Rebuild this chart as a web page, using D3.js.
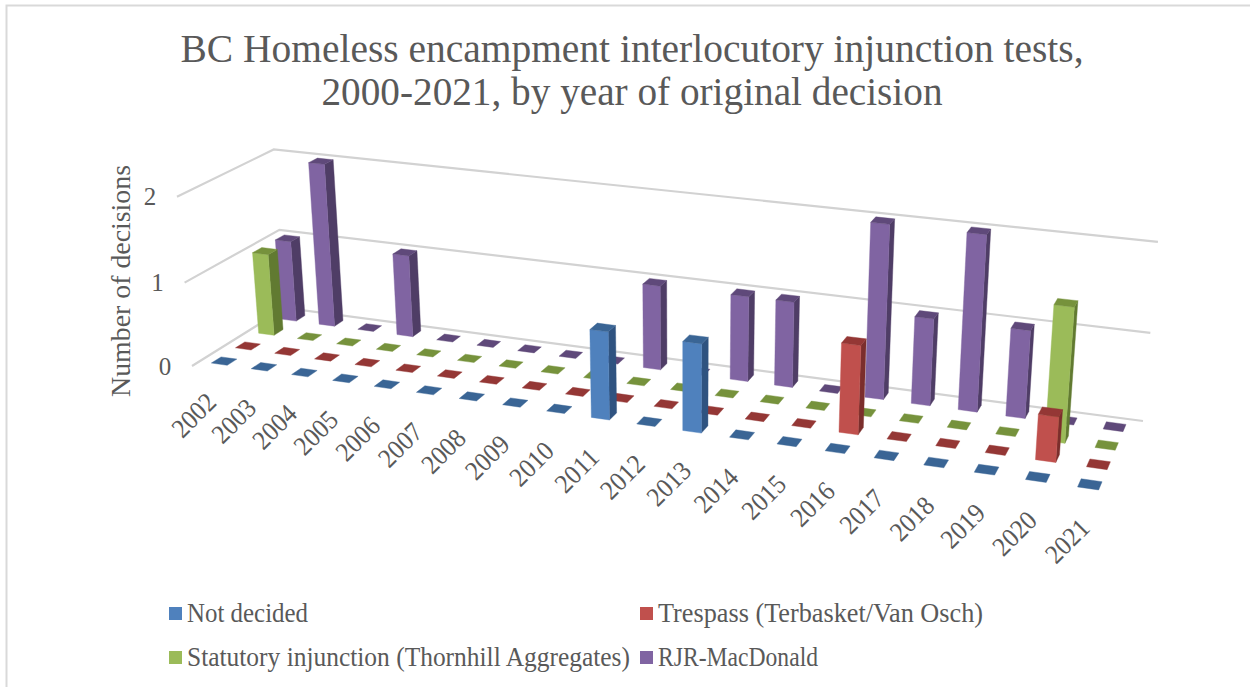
<!DOCTYPE html>
<html>
<head>
<meta charset="utf-8">
<title>BC Homeless encampment interlocutory injunction tests</title>
<script src="https://cdn.jsdelivr.net/npm/d3@7"></script>
<style>
    html, body { margin: 0; padding: 0; background: #fff; }
    svg { display: block; }
    text { font-family: "Liberation Serif", serif; fill: #595959; }
</style>
</head>
<body>
<div id="chart"></div>
<script>
//Decisions per year, one list per series
var years = ["2002", "2003", "2004", "2005", "2006", "2007", "2008", "2009", "2010", "2011",
    "2012", "2013", "2014", "2015", "2016", "2017", "2018", "2019", "2020", "2021"];
var notDecided = [0, 0, 0, 0, 0, 0, 0, 0, 0, 1, 0, 1, 0, 0, 0, 0, 0, 0, 0, 0];
var trespass = [0, 0, 0, 0, 0, 0, 0, 0, 0, 0, 0, 0, 0, 0, 1, 0, 0, 0, 0.5, 0];
var statutory = [1, 0, 0, 0, 0, 0, 0, 0, 0, 0, 0, 0, 0, 0, 0, 0, 0, 0, 1.5, 0];
var rjr = [1, 2, 0, 1, 0, 0, 0, 0, 0, 1, 0, 1, 1, 0, 2, 1, 2, 1, 0, 0];
var seriesNames = ["Not decided", "Trespass (Terbasket/Van Osch)",
    "Statutory injunction (Thornhill Aggregates)", "RJR-MacDonald"];
var seriesValues = [notDecided, trespass, statutory, rjr];
var valueTicks = [0, 1, 2];

var width = 1250, height = 687;
var frontColors = ["#4F81BD", "#C0504D", "#9BBB59", "#8064A2"];
var topColors = ["#3A6595", "#943735", "#76923C", "#5F497A"];
var sideColors = ["#2F5380", "#7B2E2C", "#617A31", "#4F3D66"];

var svg = d3.select("#chart").append("svg")
    .attr("width", width)
    .attr("height", height);

// chart frame, open on the right and at the bottom
svg.append("path")
    .attr("d", "M6.5," + height + "V5.5H" + width)
    .attr("fill", "none")
    .attr("stroke", "#D9D9D9")
    .attr("stroke-width", 2);

var x = d3.scaleBand().domain(years).range([0, 1]);
var z = d3.scaleBand().domain(seriesNames).range([0, 1]);
var y = d3.scaleLinear().domain([0, 2]).range([0, 2]);

// perspective: floor corners on screen (front left, front right, back right, back left)
// plus the point where the verticals meet, far below the chart
var floor = [[192, 366], [1112, 498.5], [1143, 421], [285, 308]];
var vanish = [685, 5918], rise = -0.0148;

var dx1 = floor[1][0] - floor[2][0], dx2 = floor[3][0] - floor[2][0],
    dy1 = floor[1][1] - floor[2][1], dy2 = floor[3][1] - floor[2][1],
    sx = floor[0][0] - floor[1][0] + floor[2][0] - floor[3][0],
    sy = floor[0][1] - floor[1][1] + floor[2][1] - floor[3][1],
    den = dx1 * dy2 - dx2 * dy1,
    g = (sx * dy2 - dx2 * sy) / den,
    h = (dx1 * sy - sx * dy1) / den;

function project(u, v, val) {
    var k = rise * y(val);
    var w = 1 + g * u + h * v + k;
    return [
        (floor[0][0] + (floor[1][0] - floor[0][0] + g * floor[1][0]) * u + (floor[3][0] - floor[0][0] + h * floor[3][0]) * v + k * vanish[0]) / w,
        (floor[0][1] + (floor[1][1] - floor[0][1] + g * floor[1][1]) * u + (floor[3][1] - floor[0][1] + h * floor[3][1]) * v + k * vanish[1]) / w
    ];
}

var line = d3.line();

// gridlines along the side wall and the back wall
svg.append("g").selectAll("path")
    .data(valueTicks)
    .enter().append("path")
    .attr("d", function(d) {
        return line([project(0, 0, d), project(0, 1, d), project(1, 1, d)]);
    })
    .attr("fill", "none")
    .attr("stroke", "#D2D2D2")
    .attr("stroke-width", 2.2);

// bars, back row first and left to right so nearer ones cover the rest
var barWidth = x.bandwidth() * 0.4, barDepth = z.bandwidth() * 0.4;
var layerBars = svg.append("g");

d3.range(seriesNames.length - 1, -1, -1).forEach(function(s) {
    var row = layerBars.append("g").attr("class", "row");
    years.forEach(function(year, i) {
        var val = seriesValues[s][i];
        var u0 = x(year) + (x.bandwidth() - barWidth) / 2, u1 = u0 + barWidth;
        var v0 = z(seriesNames[s]) + (z.bandwidth() - barDepth) / 2, v1 = v0 + barDepth;
        var faces = [
            { fill: sideColors[s], pts: [project(u1, v0, 0), project(u1, v1, 0), project(u1, v1, val), project(u1, v0, val)] },
            { fill: frontColors[s], pts: [project(u0, v0, 0), project(u1, v0, 0), project(u1, v0, val), project(u0, v0, val)] },
            { fill: topColors[s], pts: [project(u0, v0, val), project(u1, v0, val), project(u1, v1, val), project(u0, v1, val)] }
        ];
        faces.filter(function(f) { return val > 0 || f.fill === topColors[s]; }).forEach(function(f) {
            row.append("path")
                .attr("d", line(f.pts) + "Z")
                .attr("fill", f.fill)
                .attr("stroke", f.fill)
                .attr("stroke-width", 0.4);
        });
    });
});

// value axis labels
svg.append("g").selectAll("text")
    .data(valueTicks)
    .enter().append("text")
    .attr("x", function(d) { return project(0, 0, d)[0] - 27; })
    .attr("y", function(d) { return project(0, 0, d)[1]; })
    .attr("dy", "0.35em")
    .attr("text-anchor", "middle")
    .style("font-size", "25px")
    .text(function(d) { return d; });

// year labels hang off the front edge of the floor
svg.append("g").selectAll("text")
    .data(years)
    .enter().append("text")
    .attr("transform", function(d) {
        var p = project(x(d) + x.bandwidth() / 2, 0, 0);
        return "translate(" + (p[0] - 18.5) + "," + (p[1] + 46) + ") rotate(-45)";
    })
    .attr("dy", "0.35em")
    .attr("text-anchor", "middle")
    .attr("textLength", 50)
    .attr("lengthAdjust", "spacingAndGlyphs")
    .style("font-size", "27px")
    .text(function(d) { return d; });

svg.append("text")
    .attr("transform", "translate(130,281) rotate(-90)")
    .attr("text-anchor", "middle")
    .attr("textLength", 232)
    .attr("lengthAdjust", "spacingAndGlyphs")
    .style("font-size", "27px")
    .text("Number of decisions");

// title
var titleLines = ["BC Homeless encampment interlocutory injunction tests,",
    "2000-2021, by year of original decision"];
var titleSpans = [903, 621];
svg.append("g").selectAll("text")
    .data(titleLines)
    .enter().append("text")
    .attr("x", 632)
    .attr("y", function(d, i) { return 62 + i * 43; })
    .attr("text-anchor", "middle")
    .attr("textLength", function(d, i) { return titleSpans[i]; })
    .attr("lengthAdjust", "spacingAndGlyphs")
    .style("font-size", "41px")
    .text(function(d) { return d; });

// legend, two rows of two
var legendX = [169, 640, 169, 640], legendY = [607, 607, 651, 651];
var legendSpans = [121, 325, 443, 160];
var legend = svg.append("g").selectAll("g")
    .data(seriesNames)
    .enter().append("g")
    .attr("transform", function(d, i) { return "translate(" + legendX[i] + "," + legendY[i] + ")"; });

legend.append("rect")
    .attr("width", 13)
    .attr("height", 13)
    .attr("fill", function(d, i) { return frontColors[i]; });

legend.append("text")
    .attr("x", 18)
    .attr("y", 14.5)
    .attr("textLength", function(d, i) { return legendSpans[i]; })
    .attr("lengthAdjust", "spacingAndGlyphs")
    .style("font-size", "27px")
    .text(function(d) { return d; });
</script>
</body>
</html>
